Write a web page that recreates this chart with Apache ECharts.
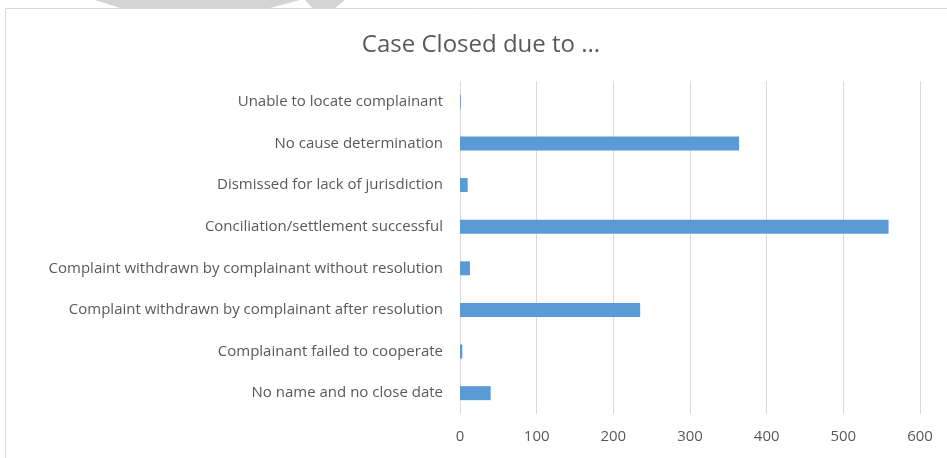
<!DOCTYPE html>
<html>
<head>
<meta charset="utf-8">
<script src="https://cdn.jsdelivr.net/npm/echarts@6/dist/echarts.min.js"></script>
<style>
  html, body { margin: 0; padding: 0; background: #fff; }
  #chart { width: 947px; height: 458px; }
</style>
</head>
<body>
<div id="chart"></div>
<script>
// Closure reasons, listed bottom to top as they appear on the category axis
const categories = [
  'No name and no close date',
  'Complainant failed to cooperate',
  'Complaint withdrawn by complainant after resolution',
  'Complaint withdrawn by complainant without resolution',
  'Conciliation/settlement successful',
  'Dismissed for lack of jurisdiction',
  'No cause determination',
  'Unable to locate complainant'
];
// Number of cases closed for each reason
const caseCounts = [40, 3, 235, 13, 559, 10, 364, 1];
// Value axis ticks
const axisMin = 0;
const axisMax = 600;
const axisStep = 100;

const textColor = '#595959';
const fontFamily = '"Open Sans", "DejaVu Sans", sans-serif';

const chart = echarts.init(document.getElementById('chart'), null, { renderer: 'canvas' });

chart.setOption({
  animation: false,
  backgroundColor: '#ffffff',
  title: {
    text: 'Case Closed due to ...',
    left: 476,
    top: 28,
    textAlign: 'center',
    textStyle: { color: textColor, fontSize: 24, fontWeight: 'normal', fontFamily: fontFamily }
  },
  graphic: [
    // chart frame
    {
      type: 'rect',
      shape: { x: 5.5, y: 8.5, width: 960, height: 470 },
      style: { fill: 'none', stroke: '#d9d9d9', lineWidth: 1 },
      z: -1
    },
    // faint page marks above the frame
    {
      type: 'polygon',
      shape: { points: [[95, 0], [300, 0], [270, 8], [120, 8]] },
      style: { fill: '#d4d4d4' },
      z: -2
    },
    {
      type: 'polygon',
      shape: { points: [[305, 0], [345, 0], [335, 8], [312, 8]] },
      style: { fill: '#d4d4d4' },
      z: -2
    }
  ],
  grid: {
    left: 460,
    right: 27,
    top: 81,
    bottom: 44,
    containLabel: false
  },
  xAxis: {
    type: 'value',
    min: axisMin,
    max: axisMax,
    interval: axisStep,
    axisLine: { show: false },
    axisTick: { show: false },
    axisLabel: { color: textColor, fontSize: 15, fontFamily: fontFamily, margin: 15 },
    splitLine: { show: true, lineStyle: { color: '#d9d9d9', width: 1 } }
  },
  yAxis: {
    type: 'category',
    data: categories,
    axisLine: { show: false },
    axisTick: { show: false },
    axisLabel: { color: textColor, fontSize: 15, fontFamily: fontFamily, margin: 17 },
    splitLine: { show: false }
  },
  series: [{
    type: 'bar',
    data: caseCounts,
    barWidth: 14,
    itemStyle: { color: '#5b9bd5' }
  }]
});
</script>
</body>
</html>
